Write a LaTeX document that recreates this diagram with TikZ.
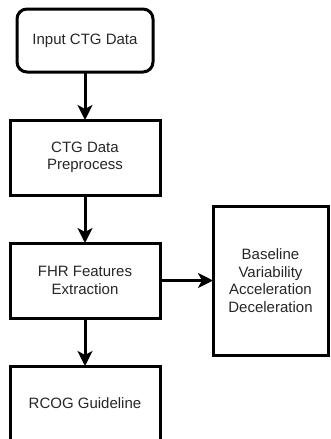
\documentclass[tikz,border=0pt]{standalone}
\usepackage{fontspec}
\setmainfont{Liberation Sans}
\usepackage{tikz}
\usetikzlibrary{
    arrows.meta,
    positioning
}
\tikzset{
    every node/.append style = {
        font=\fontsize{15}{17.5}\selectfont,
        text=black!85,
        align=center,
        outer sep=0pt
    },
    stepbox/.style = {
        draw,
        rectangle,
        line width=3pt,
        minimum width=150pt,
        minimum height=75pt
    },
    startbox/.style = {
        stepbox,
        rounded corners=10pt,
        minimum width=136pt,
        minimum height=63pt
    },
    featbox/.style = {
        stepbox,
        minimum width=115pt,
        minimum height=149pt
    },
    flow/.style = {
        -{Stealth[length=15pt,width=15pt,inset=4pt]},
        line width=3pt
    }
}

\begin{document}
\begin{tikzpicture}[x=1pt, y=-1pt]
        \clip (0,0) rectangle (330,439);
        \useasboundingbox (0,0) rectangle (330,439);

        \node[startbox] (input) at (85, 40.5) {Input CTG Data};
        \node[stepbox] (prep) at (85, 157.5) {CTG Data\\Preprocess};
        \node[stepbox] (extract) at (85, 280.5) {FHR Features\\Extraction};
        \node[stepbox] (rcog) at (85, 403.5) {RCOG Guideline};
        \node[featbox] (feats) at (270.5, 280.5)
            {Baseline\\Variability\\Acceleration\\Deceleration};

        \draw[flow] (input) -- (prep);
        \draw[flow] (prep) -- (extract);
        \draw[flow] (extract) -- (rcog);
        \draw[flow] (extract) -- (feats);
    \end{tikzpicture}
\end{document}
